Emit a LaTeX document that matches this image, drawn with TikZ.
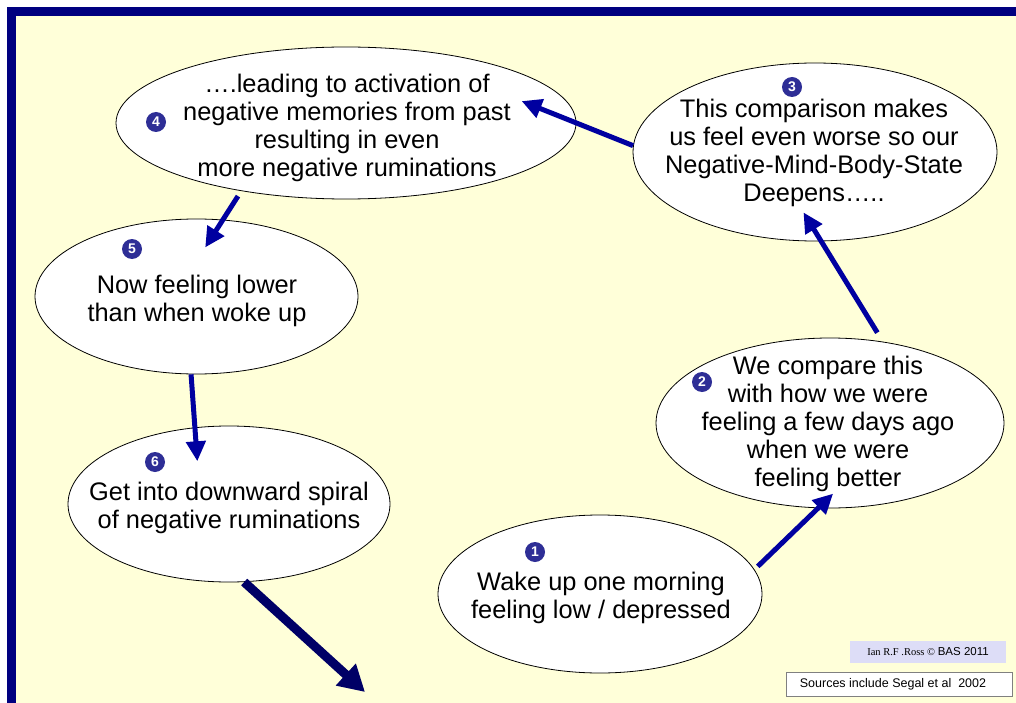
\documentclass[tikz,border=0pt]{standalone}
\usepackage{fontspec}
\setmainfont{Liberation Sans}
\newfontfamily\timesfont{Liberation Serif}
\usetikzlibrary{arrows.meta,shapes.geometric}
\definecolor{paper}{RGB}{255,255,217}
\definecolor{frame}{RGB}{0,0,128}
\definecolor{flowblue}{RGB}{0,0,160}
\definecolor{deepblue}{RGB}{0,0,102}
\definecolor{dotblue}{RGB}{46,46,150}
\definecolor{tagbg}{RGB}{221,221,247}

\begin{document}
\begin{tikzpicture}[x=1pt, y=-1pt,
  bubble/.style={ellipse, draw=black, line width=0.8pt, fill=white, inner sep=0pt},
  txt/.style={align=center, inner sep=0pt, font=\fontsize{25.4}{28}\selectfont},
  num/.style={circle, fill=dotblue, text=white, inner sep=0pt, minimum size=20pt, font=\fontsize{14}{14}\selectfont\bfseries},
  flow/.style={draw=flowblue, line width=5pt, -{Triangle[length=20pt,width=19pt]}},
  bigflow/.style={draw=deepblue, line width=9pt, -{Triangle[length=26pt,width=28pt]}}]
\useasboundingbox (0,0) rectangle (1016,703);
\fill[white] (0,0) rectangle (1016,703);
\fill[paper] (16,16) rectangle (1016,703);
\fill[frame] (7,7) rectangle (1016,16);
\fill[frame] (7,7) rectangle (16,703);

\node[bubble, minimum width=324pt, minimum height=158pt] (e1) at (600,594) {};
\node[bubble, minimum width=348pt, minimum height=170pt] (e2) at (830,423) {};
\node[bubble, minimum width=364pt, minimum height=178pt] (e3) at (815,152) {};
\node[bubble, minimum width=460pt, minimum height=152pt] (e4) at (346,123) {};
\node[bubble, minimum width=323pt, minimum height=155pt] (e5) at (196.5,296.5) {};
\node[bubble, minimum width=322pt, minimum height=156pt] (e6) at (229,504) {};

\node[txt] (t1) at (601,598) {Wake up one morning\\feeling low / depressed};
\node[txt] (t2) at (828,424) {We compare this\\with how we were\\feeling a few days ago\\when we were\\feeling better};
\node[txt] (t3) at (814,153) {This comparison makes\\us feel even worse so our\\Negative-Mind-Body-State\\Deepens…..};
\node[txt] (t4) at (347,128) {….leading to activation of\\negative memories from past\\resulting in even\\more negative ruminations};
\node[txt] (t5) at (197,301) {Now feeling lower\\than when woke up};
\node[txt] (t6) at (229,508) {Get into downward spiral\\of negative ruminations};

\node[num] (n1) at (535,552) {1};
\node[num] (n2) at (702,382) {2};
\node[num] (n3) at (792,87) {3};
\node[num] (n4) at (156,122) {4};
\node[num] (n5) at (132,249) {5};
\node[num] (n6) at (155,462) {6};

\draw[flow, shorten <=4.5pt, shorten >=-21pt] (e1.9) -- (e2.262);
\draw[flow, shorten <=10.5pt, shorten >=-34pt] (e2.57) -- (e3.-86);
\draw[flow, shorten >=-59pt] (e3.178) -- (e4.0);
\draw[flow, shorten <=6pt, shorten >=-33pt] (e4.213) -- (e5.71);
\draw[flow, shorten >=-34pt] (e5.-94) -- (e6.114);
\coordinate (down) at (365,692);
\draw[bigflow] (e6.-79) -- (down);

\node[fill=tagbg, minimum width=156pt, minimum height=22pt, inner sep=0pt] (tag) at (928,652)
  {{\timesfont\fontsize{10.5}{12}\selectfont Ian R.F .Ross ©} {\fontsize{11.5}{12}\selectfont BAS 2011}};
\node[draw=gray, fill=white, line width=0.8pt, minimum width=226pt, minimum height=24pt, inner sep=0pt] (src) at (899,684)
  {\fontsize{12.5}{14}\selectfont Sources include Segal et al\ \ 2002\hspace*{12pt}};
\end{tikzpicture}
\end{document}
